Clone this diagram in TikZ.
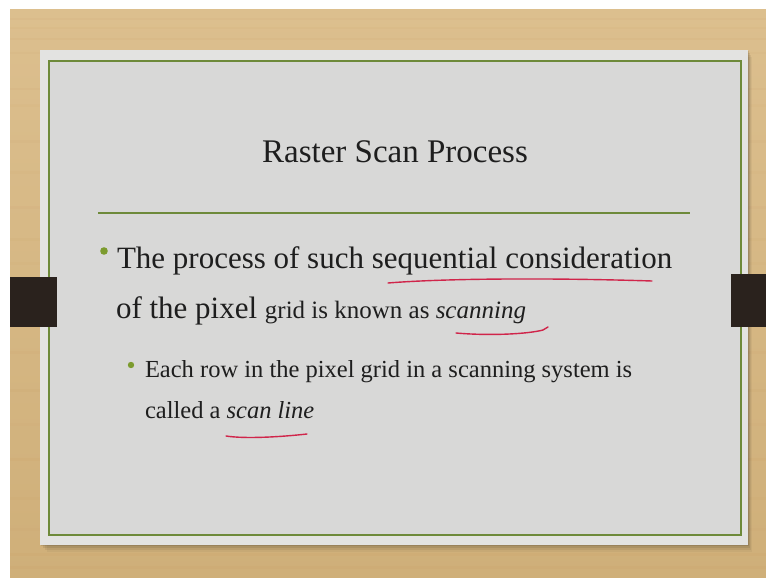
\documentclass[tikz,border=0pt]{standalone}
\usepackage{fontspec}
\setmainfont{Liberation Serif}
\definecolor{woodlight}{HTML}{DCBF8E}
\definecolor{wooddark}{HTML}{CFAF79}
\definecolor{paper}{HTML}{D8D8D7}
\definecolor{paperedge}{HTML}{E3E3E1}
\definecolor{olive}{HTML}{6E8A3A}
\definecolor{bulletgreen}{HTML}{7C9B2E}
\definecolor{ink}{HTML}{1E1E1E}
\definecolor{clampbrown}{HTML}{2A221D}
\definecolor{pen}{HTML}{D0254A}
\newcommand\fsz[1]{\fontsize{#1}{#1}\selectfont}
\begin{document}
\begin{tikzpicture}[x=1pt,y=-1pt,
  txt/.style={inner sep=0pt, outer sep=0pt, text=ink, anchor=base west},
  frameline/.style={draw=olive, line width=1.6pt},
  penstroke/.style={draw=pen, line width=1.4pt, line cap=round, line join=round},
  bulletdot/.style={fill=bulletgreen},
  clampbar/.style={fill=clampbrown}]
\useasboundingbox (0,0) rectangle (766,578);

% wooden desk with a thin white strip on top and left
\fill[white] (0,0) rectangle (766,578);
\shade[top color=woodlight, bottom color=wooddark] (10,10) rectangle (766,578);
\foreach \yy/\op in {18/0.05, 27/0.04, 38/0.06, 52/0.04, 88/0.05, 104/0.03, 140/0.04, 171/0.03,
                     206/0.04, 238/0.05, 262/0.03, 351/0.04, 389/0.05, 423/0.03, 458/0.05,
                     497/0.04, 528/0.03, 553/0.06, 566/0.05}
  \fill[brown, opacity=\op] (10,\yy) rectangle (766,\yy+2.5);

% soft shadow under the slide
\foreach \d/\op in {1/0.10, 3/0.08, 5/0.06, 7/0.04}
  \fill[black, opacity=\op] (40+\d,50+\d) rectangle (748+\d*0.5,545+\d);

% slide panel and its olive border
\fill[paperedge] (40,50) rectangle (748,545);
\fill[paper] (49,61) rectangle (741,535);
\draw[frameline] (49,61) rectangle (741,535);

% dark clamps on both sides
\fill[clampbar] (10,277) rectangle (57,327);
\fill[clampbar] (731,274) rectangle (766,327);

% title and rule
\node[inner sep=0pt, text=ink, anchor=base] (title) at (395,162) {\fsz{33}Raster Scan Process};
\coordinate (ruleL) at (98,213);
\coordinate (ruleR) at (690,213);
\draw[draw=olive, line width=2pt] (ruleL) -- (ruleR);

% first bullet
\fill[bulletdot] (104,251) circle (3.8);
\node[txt] (l1) at (117,268) {\fsz{31}The process of such sequential consideration};
\node[txt] (l2) at (116,318) {\fsz{31}of the pixel {\fsz{25}grid is known as \textit{scanning}}};

% second-level bullet
\fill[bulletdot] (131,365) circle (3.2);
\node[txt] (s1) at (145,377) {\fsz{24.5}Each row in the pixel grid in a scanning system is};
\node[txt] (s2) at (145,418) {\fsz{24.5}called a \textit{scan line}};

% red pen underlines
\draw[penstroke] (388,283) .. controls (450,278) and (560,278) .. (652,281);
\draw[penstroke] (456,333) .. controls (490,336) and (528,334) .. (543,330) -- (548,327);
\draw[penstroke] (226,436) .. controls (245,439) and (280,437) .. (307,434);
\end{tikzpicture}
\end{document}
